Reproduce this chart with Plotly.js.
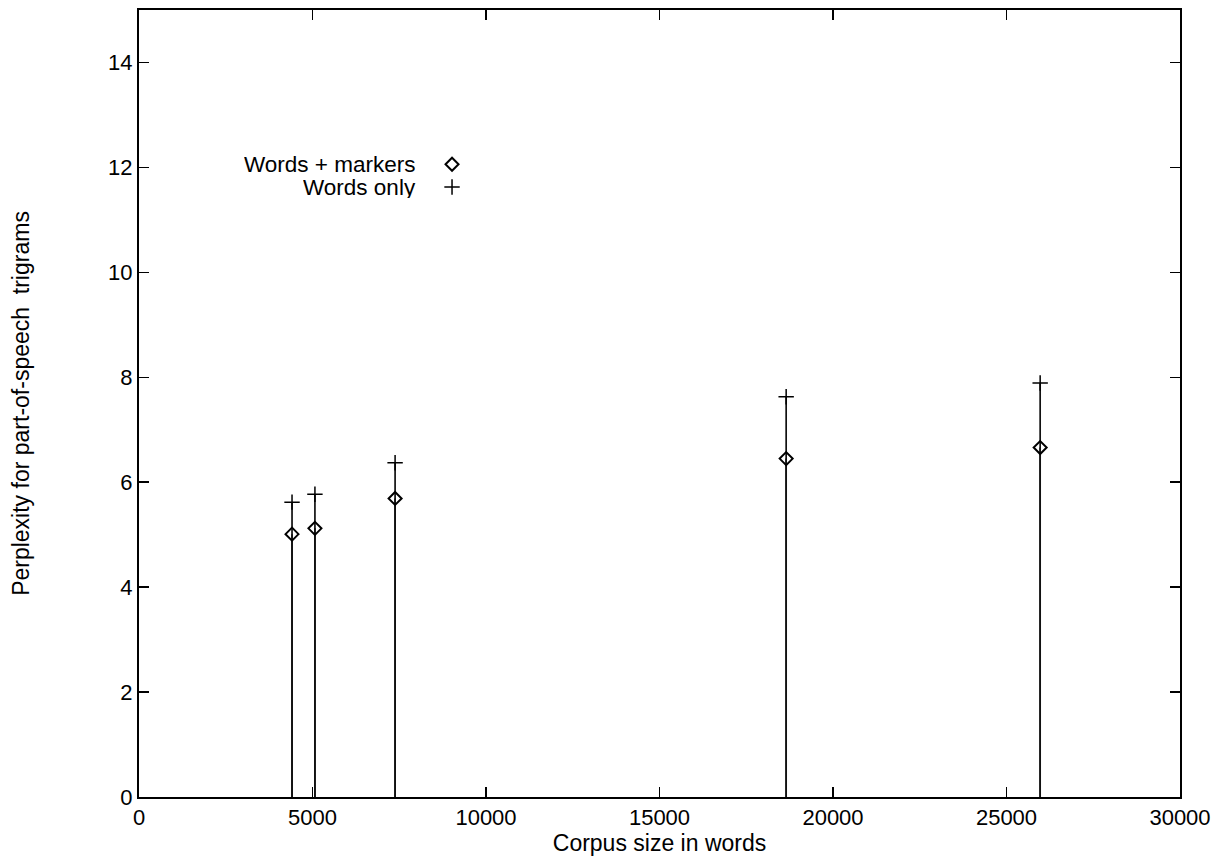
<!DOCTYPE html>
<html>
<head>
<meta charset="utf-8">
<script src="https://cdn.plot.ly/plotly-3.0.1.min.js"></script>
<style>html,body{margin:0;padding:0;background:#fff;}#chart{width:1214px;height:857px;}</style>
</head>
<body>
<div id="chart"></div>
<script>
// Data
const corpusSize = [4410, 5070, 7380, 18650, 25970];
const wordsMarkers = [5.01, 5.12, 5.69, 6.45, 6.66];
const wordsOnly = [5.62, 5.77, 6.37, 7.63, 7.89];
const seriesNames = ["Words + markers", "Words only"];
const xTicks = [0, 5000, 10000, 15000, 20000, 25000, 30000];
const yTicks = [0, 2, 4, 6, 8, 10, 12, 14];

function impulses(xs, ys) {
  const x = [], y = [];
  xs.forEach((v, i) => { x.push(v, v, null); y.push(0, ys[i], null); });
  return {x, y};
}
const imp1 = impulses(corpusSize, wordsOnly);
const imp2 = impulses(corpusSize, wordsMarkers);
const fam = "Liberation Sans, Arial, sans-serif";
const tickFont = {family: fam, size: 22, color: "#000"};
const titleFont = {family: fam, size: 23, color: "#000"};
const legendFont = {family: fam, size: 22.5, color: "#000"};

const diamond = {symbol: "diamond-open", size: 10, color: "#000", line: {width: 2, color: "#000"}};
const plus = {symbol: "cross-thin-open", size: 11, color: "#000", line: {width: 1.5, color: "#000"}};

const traces = [
  {x: imp1.x, y: imp1.y, mode: "lines", line: {color: "#111", width: 1.7}, showlegend: false, hoverinfo: "skip"},
  {x: imp2.x, y: imp2.y, mode: "lines", line: {color: "#111", width: 1.7}, showlegend: false, hoverinfo: "skip"},
  {x: corpusSize, y: wordsMarkers, mode: "markers", name: seriesNames[0], marker: diamond, showlegend: false},
  {x: corpusSize, y: wordsOnly, mode: "markers", name: seriesNames[1], marker: plus, showlegend: false},
  // legend keys (drawn on an overlay axis with [0,1] range)
  {x: [0.3007], y: [0.804], xaxis: "x2", yaxis: "y2", mode: "markers", showlegend: false, hoverinfo: "skip", marker: diamond},
  {x: [0.3007], y: [0.775], xaxis: "x2", yaxis: "y2", mode: "markers", showlegend: false, hoverinfo: "skip", marker: plus}
];

const layout = {
  width: 1214, height: 857,
  margin: {l: 139, r: 34, t: 10, b: 60},
  paper_bgcolor: "#fff", plot_bgcolor: "#fff",
  font: tickFont,
  showlegend: false,
  xaxis: {
    range: [0, 30000], tickvals: xTicks, ticktext: xTicks.map(String),
    ticks: "inside", ticklen: 10, tickwidth: 1.5, tickcolor: "#000",
    showline: true, linecolor: "#000", linewidth: 2, mirror: "ticks",
    showgrid: false, zeroline: false, tickfont: tickFont,
    title: {text: "Corpus size in words", font: titleFont, standoff: 4}
  },
  yaxis: {
    range: [0, 15], tickvals: yTicks, ticktext: yTicks.map(String),
    ticks: "inside", ticklen: 10, tickwidth: 1.5, tickcolor: "#000",
    showline: true, linecolor: "#000", linewidth: 2, mirror: "ticks",
    showgrid: false, zeroline: false, tickfont: tickFont,
    title: {text: "Perplexity for part-of-speech&nbsp; trigrams", font: titleFont, standoff: 72}
  },
  xaxis2: {overlaying: "x", range: [0, 1], visible: false, fixedrange: true},
  yaxis2: {overlaying: "y", range: [0, 1], visible: false, fixedrange: true},
  annotations: [
    {xref: "paper", yref: "paper", x: 0.267, y: 0.804, xanchor: "right", yanchor: "middle",
     text: seriesNames[0], showarrow: false, font: legendFont, height: 21, borderpad: 0},
    {xref: "paper", yref: "paper", x: 0.267, y: 0.775, xanchor: "right", yanchor: "middle",
     text: seriesNames[1], showarrow: false, font: legendFont, height: 21, borderpad: 0}
  ]
};

Plotly.newPlot("chart", traces, layout, {displayModeBar: false, staticPlot: true});
</script>
</body>
</html>
